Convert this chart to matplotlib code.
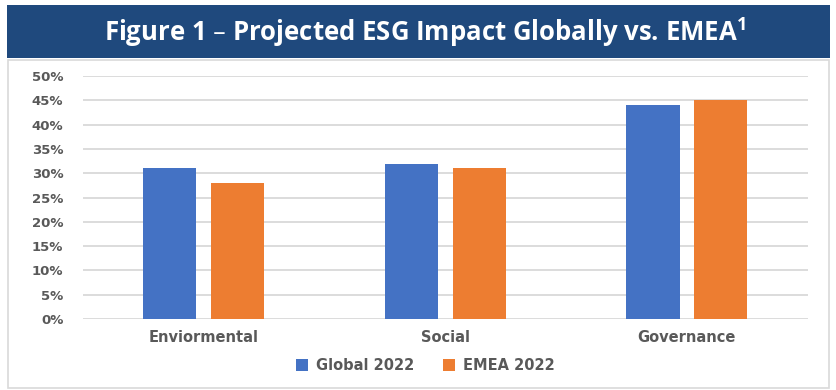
import matplotlib
matplotlib.use('Agg')
import matplotlib.pyplot as plt
from matplotlib.patches import Rectangle
from matplotlib.ticker import PercentFormatter
import numpy as np

categories = ['Enviormental', 'Social', 'Governance']
global_2022 = [0.31, 0.32, 0.44]
emea_2022 = [0.28, 0.31, 0.45]

blue = '#4472C4'
orange = '#ED7D31'
grey_txt = '#595959'

fig = plt.figure(figsize=(8.37, 3.9), dpi=100)

# title banner
fig.patches.append(Rectangle((0.0084, 0.851), 0.9832, 0.136, transform=fig.transFigure,
                             facecolor='#1F497D', edgecolor='none', zorder=-2))
fig.text(0.508, 0.918, 'Figure 1 \u2013 Projected ESG Impact Globally vs. EMEA$^{\\mathregular{1}}$',
         ha='center', va='center', color='white', fontsize=18.5, fontweight='bold',
         family='Open Sans')

# chart frame
fig.patches.append(Rectangle((0.0096, 0.005), 0.981, 0.841, transform=fig.transFigure,
                             facecolor='white', edgecolor='#D9D9D9', linewidth=1.2, zorder=-2))

ax = fig.add_axes([0.099, 0.182, 0.866, 0.623])
ax.patch.set_alpha(0)
x = np.arange(len(categories))
w = 0.22
ax.bar(x - 0.14, global_2022, w, color=blue, label='Global 2022', zorder=3)
ax.bar(x + 0.14, emea_2022, w, color=orange, label='EMEA 2022', zorder=3)

ax.set_xlim(-0.5, 2.5)
ax.set_ylim(0, 0.5)
ax.set_yticks(np.arange(0, 0.501, 0.05))
ax.yaxis.set_major_formatter(PercentFormatter(1.0, decimals=0))
ax.grid(axis='y', color='#D9D9D9', linewidth=1.3, zorder=0)
for s in ax.spines.values():
    s.set_visible(False)
ax.tick_params(length=0)
ax.tick_params(axis='y', pad=14)
ax.tick_params(axis='x', pad=8)
ax.set_xticks(x)
ax.set_xticklabels(categories)
for lab in ax.get_yticklabels():
    lab.set_color(grey_txt)
    lab.set_fontweight('bold')
    lab.set_fontsize(9.5)
for lab in ax.get_xticklabels():
    lab.set_color(grey_txt)
    lab.set_fontweight('bold')
    lab.set_fontsize(10.5)

leg = fig.legend(loc='center', bbox_to_anchor=(0.508, 0.062), ncol=2, frameon=False,
                 handlelength=0.85, handleheight=0.85, columnspacing=2.0, handletextpad=0.5,
                 prop={'weight': 'bold', 'size': 10.5})
for t in leg.get_texts():
    t.set_color(grey_txt)

fig.savefig('out.png', dpi=100)
